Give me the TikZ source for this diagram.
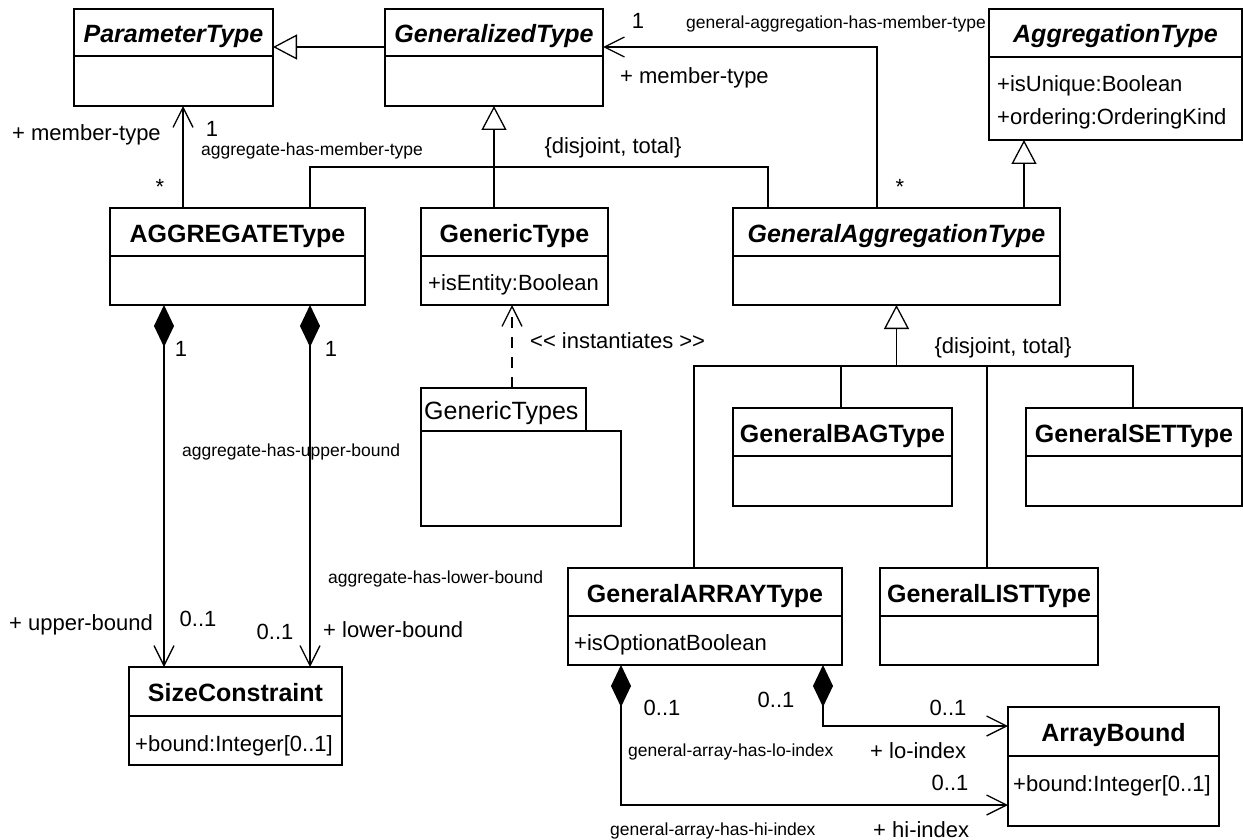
\documentclass[tikz,border=0pt]{standalone}
\usepackage{fontspec}
\setmainfont{Liberation Sans}
\usetikzlibrary{arrows.meta}
\newcommand\umlcls[8]{%
  \node[box, minimum width={#4-#2}, minimum height={#5-#3}] (#1) at (#2,#3) {};
  \draw[lw] (#1.west |- 0,#6) -- (#1.east |- 0,#6);
  \node[#7, anchor=base] (#1-title) at ({(#2+#4)/2},{#3+34}) {#8};
}
\begin{document}
\begin{tikzpicture}[x=1pt,y=-1pt,
  lw/.style={line width=1.3pt},
  box/.style={draw, line width=1.3pt, inner sep=0pt, outer sep=0pt, anchor=north west},
  ttl/.style={font=\fontsize{25}{28}\selectfont\bfseries, inner sep=0pt},
  ittl/.style={font=\fontsize{25}{28}\selectfont\bfseries\itshape, inner sep=0pt},
  attr/.style={font=\fontsize{22}{26}\selectfont, inner sep=0pt, anchor=base west},
  lbl/.style={font=\fontsize{22}{26}\selectfont, inner sep=0pt, text height=16pt, text depth=0pt},
  sml/.style={font=\fontsize{17.5}{20}\selectfont, inner sep=0pt, text height=12.5pt, text depth=0pt, anchor=west},
  genarrow/.style={line width=1.3pt, -{Triangle[open,length=24pt,width=25pt]}},
  assocarrow/.style={line width=1.3pt, -{Straight Barb[length=20pt,width=20pt]}},
  comp/.style={line width=1.3pt, {Diamond[length=42pt,width=20pt]}-{Straight Barb[length=20pt,width=20pt]}},
  dep/.style={line width=1.3pt, dash pattern=on 11pt off 9pt, -{Straight Barb[length=20pt,width=20pt]}}
]
\useasboundingbox (0,0) rectangle (1243,840);

% classes
\umlcls{parT}{74}{9}{273}{106}{56}{ittl}{ParameterType}
\umlcls{gzdT}{385}{9}{603}{106}{56}{ittl}{GeneralizedType}
\umlcls{aggrT}{989}{9}{1242}{140}{57}{ittl}{AggregationType}
\node[attr] (aggrT-a1) at (997,92) {+isUnique:Boolean};
\node[attr] (aggrT-a2) at (997,125) {+ordering:OrderingKind};
\umlcls{AGGT}{110}{208}{365}{305}{256}{ttl}{AGGREGATEType}
\umlcls{genericT}{421}{208}{608}{305}{256}{ttl}{GenericType}
\node[attr] (genericT-a1) at (428,290) {+isEntity:Boolean};
\umlcls{gaggT}{733}{208}{1060}{305}{256}{ittl}{GeneralAggregationType}
\umlcls{bagT}{733}{408}{952}{506}{456}{ttl}{GeneralBAGType}
\umlcls{setT}{1026}{408}{1242}{506}{456}{ttl}{GeneralSETType}
\umlcls{arrT}{568}{568}{842}{665}{616}{ttl}{GeneralARRAYType}
\node[attr] (arrT-a1) at (574,650) {+isOptionatBoolean};
\umlcls{listT}{880}{568}{1098}{665}{616}{ttl}{GeneralLISTType}
\umlcls{sizeC}{129}{667}{342}{765}{716}{ttl}{SizeConstraint}
\node[attr] (sizeC-a1) at (135,751) {+bound:Integer[0..1]};
\umlcls{arrB}{1008}{707}{1219}{826}{756}{ttl}{ArrayBound}
\node[attr] (arrB-a1) at (1013,791) {+bound:Integer[0..1]};

% package
\node[box, minimum width=165, minimum height=43] (pkgtab) at (421,388) {};
\node[box, minimum width=200, minimum height=95] (pkg) at (421,431) {};
\node[font=\fontsize{25}{28}\selectfont, inner sep=0pt, anchor=base west] (pkg-name) at (424,419) {GenericTypes};

% helper coordinates
\coordinate (h47) at (0,47);
\coordinate (h167) at (0,167);
\coordinate (h366) at (0,366);
\coordinate (h726) at (0,726);
\coordinate (h805) at (0,805);
\coordinate (x164) at (164,0);
\coordinate (x183) at (183,0);
\coordinate (x310) at (310,0);
\coordinate (x512) at (512,0);
\coordinate (x621) at (621,0);
\coordinate (x694) at (694,0);
\coordinate (x768) at (768,0);
\coordinate (x823) at (823,0);
\coordinate (x841) at (841,0);
\coordinate (x877) at (877,0);
\coordinate (x987) at (987,0);
\coordinate (x1024) at (1024,0);
\coordinate (x1133) at (1133,0);

% generalizations
\draw[genarrow] (gzdT.west |- h47) -- (parT.east |- h47);
\draw[genarrow] (genericT.north -| gzdT.south) -- (gzdT.south);
\draw[lw] (AGGT.north -| x310) -- (x310 |- h167) -- (x768 |- h167) -- (gaggT.north -| x768);
\draw[genarrow] (gaggT.north -| x1024) -- (aggrT.south -| x1024);
\draw[genarrow] (gaggT.south |- h366) -- (gaggT.south);
\draw[lw] (arrT.north -| x694) -- (x694 |- h366) -- (x1133 |- h366) -- (setT.north -| x1133);
\draw[lw] (bagT.north -| x841) -- (x841 |- h366);
\draw[lw] (listT.north -| x987) -- (x987 |- h366);

% associations
\draw[assocarrow] (AGGT.north -| x183) -- (parT.south -| x183);
\draw[assocarrow] (gaggT.north -| x877) -- (x877 |- h47) -- (gzdT.east |- h47);
\draw[dep] (pkgtab.north -| x512) -- (genericT.south -| x512);

% compositions
\draw[comp] (AGGT.south -| x164) -- (sizeC.north -| x164);
\draw[comp] (AGGT.south -| x310) -- (sizeC.north -| x310);
\draw[comp] (arrT.south -| x621) -- (x621 |- h805) -- (arrB.west |- h805);
\draw[comp] (arrT.south -| x823) -- (x823 |- h726) -- (arrB.west |- h726);

% labels
\node[lbl, anchor=west] (l1) at (12,133) {+ member-type};
\node[lbl] (l2) at (212,129) {1};
\node[sml] (l3) at (201,149) {aggregate-has-member-type};
\node[lbl] (l4) at (160,187) {*};
\node[lbl] (l5) at (613,146) {\{disjoint, total\}};
\node[lbl] (l6) at (638,21) {1};
\node[sml] (l7) at (686,22) {general-aggregation-has-member-type};
\node[lbl, anchor=west] (l8) at (620,76) {+ member-type};
\node[lbl] (l9) at (900,186) {*};
\node[lbl, anchor=west] (l10) at (530,340) {<\kern0pt< instantiates >\kern0pt>};
\node[lbl] (l11) at (1003,345) {\{disjoint, total\}};
\node[lbl] (l12) at (181,348) {1};
\node[lbl] (l13) at (331,348) {1};
\node[sml] (l14) at (182,450) {aggregate-has-upper-bound};
\node[sml] (l15) at (328,577) {aggregate-has-lower-bound};
\node[lbl, anchor=west] (l16) at (9,622) {+ upper-bound};
\node[lbl] (l17) at (198,618) {0..1};
\node[lbl] (l18) at (275,631) {0..1};
\node[lbl, anchor=west] (l19) at (323,629) {+ lower-bound};
\node[lbl] (l20) at (662,707) {0..1};
\node[lbl] (l21) at (776,699) {0..1};
\node[sml] (l22) at (628,750) {general-array-has-lo-index};
\node[lbl, anchor=west] (l23) at (870,750) {+ lo-index};
\node[lbl] (l24) at (948,707) {0..1};
\node[lbl] (l25) at (950,782) {0..1};
\node[sml] (l26) at (610,829) {general-array-has-hi-index};
\node[lbl, anchor=west] (l27) at (873,829) {+ hi-index};
\end{tikzpicture}
\end{document}
